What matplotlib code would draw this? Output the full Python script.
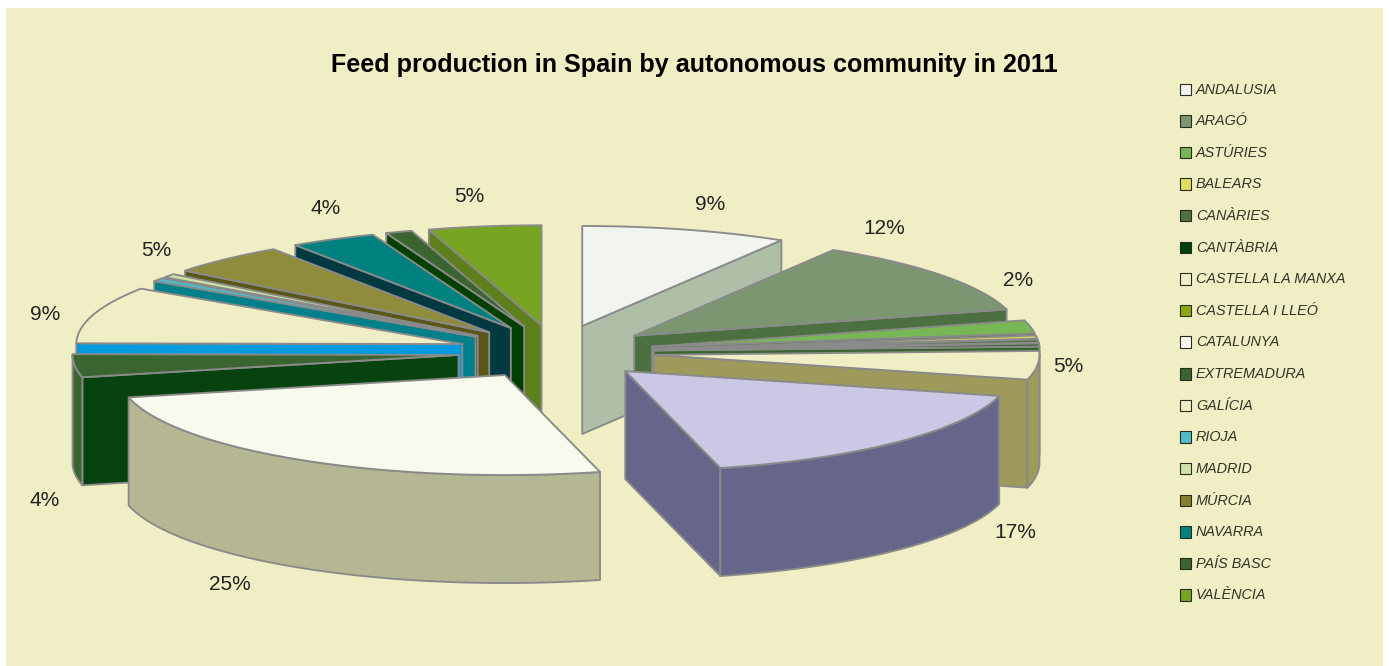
import matplotlib
matplotlib.use('Agg')
import matplotlib.pyplot as plt
from matplotlib.patches import Polygon, Rectangle
import numpy as np

plt.rcParams['font.family'] = ['Liberation Sans', 'DejaVu Sans']

regions = ['ANDALUSIA', 'ARAGÓ', 'ASTÚRIES', 'BALEARS', 'CANÀRIES', 'CANTÀBRIA',
           'CASTELLA LA MANXA', 'CASTELLA I LLEÓ', 'CATALUNYA', 'EXTREMADURA',
           'GALÍCIA', 'RIOJA', 'MADRID', 'MÚRCIA', 'NAVARRA', 'PAÍS BASC', 'VALÈNCIA']
shares = [8.6, 12.1, 2.1, 0.5, 0.5, 0.5, 4.6, 17.0, 25.3, 3.7, 9.2, 0.6, 0.6, 5.0, 3.6, 1.1, 4.7]

bg = '#f0eec4'
top_colors = ['#f2f4ef', '#7b9670', '#78b854', '#e0dc5c', '#4c7040', '#3a6530',
              bg, '#cbc8e6', '#f9faee', '#3a6530', bg, '#4fbcc8', '#cfe0a6',
              '#8f8c3c', '#00807f', '#3a6530', '#77a522']
wall_colors = ['#afbfa7', '#4c7040', '#4c7040', '#a8a548', '#3a6530', '#3a6530',
               '#9d9a5c', '#66668a', '#b5b692', '#07430f', '#009bdc', '#00808a', '#3a3a20',
               '#5a5618', '#003a40', '#004000', '#5d7f1c']
arc_colors = list(wall_colors)
arc_colors[9] = '#3a6530'
legend_colors = ['#f2f4ef', '#7b9670', '#78b854', '#e0dc5c', '#4c7040', '#05400f',
                 bg, '#8ca810', '#f9faee', '#3a6530', bg, '#4fbcc8', '#cfe0a6',
                 '#84802a', '#00807f', '#3a6530', '#77a522']

# percentage labels, only for the slices big enough to carry one
label_pos = {0: (710, 204), 1: (884, 228), 2: (1018, 279), 6: (1068, 366), 7: (1015, 531),
             8: (230, 583), 9: (45, 499), 10: (45, 314), 13: (156, 250), 14: (326, 207),
             16: (469, 196)}

cx, cy = 556, 352
rx, ry = 386, 100
explode_x, explode_y = 98, 27
depth = 108
edge = '#8a8a8a'

fig = plt.figure(figsize=(13.89, 6.66), dpi=100)
ax = fig.add_axes([0, 0, 1, 1])
ax.set_xlim(0, 1389)
ax.set_ylim(666, 0)
ax.axis('off')
ax.add_patch(Rectangle((6, 8), 1377, 658, facecolor=bg, edgecolor='none', zorder=0))


def rim(ox, oy, angles):
    # angles run clockwise from twelve o'clock, squashed into an ellipse
    return np.column_stack([ox + rx * np.sin(angles), oy - ry * np.cos(angles)])


def face(pts, color, z):
    ax.add_patch(Polygon(pts, closed=True, facecolor=color, edgecolor=edge,
                         linewidth=1.35, joinstyle='round', zorder=z))


fractions = np.array(shares) / sum(shares)
edges = np.concatenate([[0], np.cumsum(fractions)]) * 2 * np.pi
mids = (edges[:-1] + edges[1:]) / 2

# back slices first so the nearer ones overlap them
order = np.argsort(-np.cos(mids))
for z, i in enumerate(order):
    a0, a1 = edges[i], edges[i + 1]
    ox = cx + explode_x * np.sin(mids[i])
    oy = cy - explode_y * np.cos(mids[i])
    base = 10 + z * 4
    drop = np.array([0, depth])

    # radial walls that face the viewer
    if np.sin(a0) < 0:
        p = rim(ox, oy, np.array([a0]))[0]
        face([(ox, oy), p, p + drop, (ox, oy + depth)], wall_colors[i], base)
    if np.sin(a1) > 0:
        p = rim(ox, oy, np.array([a1]))[0]
        face([(ox, oy), p, p + drop, (ox, oy + depth)], wall_colors[i], base)

    # outer wall, only on the front half of the ellipse
    lo, hi = max(a0, np.pi / 2), min(a1, 3 * np.pi / 2)
    if hi > lo:
        arc = rim(ox, oy, np.linspace(lo, hi, 60))
        face(np.vstack([arc, arc[::-1] + drop]), arc_colors[i], base + 1)

    arc = rim(ox, oy, np.linspace(a0, a1, 80))
    face(np.vstack([[ox, oy], arc]), top_colors[i], base + 2)

for i, (x, y) in label_pos.items():
    ax.text(x, y + 1, f'{round(fractions[i] * 100)}%', fontsize=15, color='#222222',
            ha='center', va='center', zorder=200)

ax.text(694, 65, 'Feed production in Spain by autonomous community in 2011',
        fontsize=18.1, fontweight='bold', color='black', ha='center', va='center', zorder=200)

# legend column
for i, name in enumerate(regions):
    y = 89 + i * 31.62
    ax.add_patch(Rectangle((1179.5, y - 5.5), 11.5, 11.5, facecolor=legend_colors[i],
                           edgecolor='#2a2a20', linewidth=0.8, zorder=200))
    ax.text(1196, y + 0.5, name, fontsize=10.35, style='italic', color='#333328',
            ha='left', va='center', zorder=200)

fig.savefig('out.png', dpi=100)
